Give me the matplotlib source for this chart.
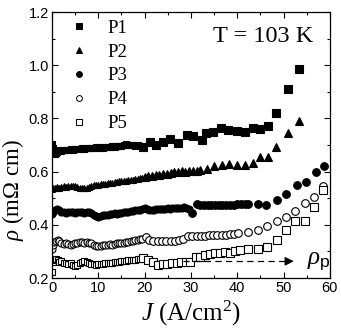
import matplotlib
matplotlib.use('Agg')
import matplotlib.pyplot as plt
from matplotlib.lines import Line2D
from matplotlib.ticker import MultipleLocator

plt.rcParams['font.family'] = ['Liberation Sans', 'DejaVu Sans']
plt.rcParams['mathtext.fontset'] = 'custom'
plt.rcParams['mathtext.rm'] = 'Liberation Serif'
plt.rcParams['mathtext.it'] = 'Liberation Serif:italic'
plt.rcParams['mathtext.sf'] = 'Liberation Sans'

############# DATA ################
p1_j = [0, 0.2, 0.4, 0.6, 0.8, 1, 1.5, 2, 2.5, 3, 3.5, 4, 4.5, 5, 5.5, 6, 6.5, 7, 7.5, 8,
        8.5, 9, 9.5, 10, 10.5, 11, 11.5, 12, 12.5, 13, 13.5, 14, 14.5, 15, 15.5, 16, 16.5,
        17, 17.5, 18, 18.5, 19, 19.7, 21.2, 22.4, 24.0, 25.5, 27.3, 29.1, 30.5, 32.3, 33.2,
        34.8, 36.5, 38.1, 39.9, 41.7, 43.3, 44.9, 46.7, 48.3, 51.0, 53.3]
p1_rho = [0.705, 0.69, 0.675, 0.665, 0.67, 0.675, 0.68, 0.678, 0.682, 0.680, 0.683, 0.684,
          0.682, 0.686, 0.685, 0.687, 0.688, 0.686, 0.689, 0.690, 0.688, 0.690, 0.691, 0.689,
          0.692, 0.690, 0.693, 0.694, 0.692, 0.695, 0.694, 0.696, 0.695, 0.698, 0.700, 0.703,
          0.701, 0.699, 0.700, 0.697, 0.699, 0.695, 0.694, 0.712, 0.700, 0.712, 0.721, 0.706,
          0.738, 0.734, 0.719, 0.746, 0.750, 0.763, 0.756, 0.754, 0.748, 0.765, 0.759, 0.773,
          0.821, 0.911, 0.985]

p2_j = [0, 0.3, 0.6, 1, 1.5, 2, 2.5, 3, 3.5, 4, 4.5, 5, 5.5, 6, 6.5, 7, 7.5, 8, 8.5, 9, 9.5,
        10, 10.5, 11, 11.5, 12, 12.5, 13, 13.5, 14, 14.5, 15, 15.5, 16, 16.5, 17, 17.5, 18,
        18.5, 19, 19.5, 20, 20.8, 21.6, 22.4, 23.2, 24, 24.8, 25.6, 26.4, 27.2, 28, 28.8,
        29.6, 30.4, 31.2, 32, 33.4, 35.0, 36.6, 38.3, 39.9, 41.7, 43.3, 44.9, 46.7, 48.3,
        51.0, 53.3]
p2_rho = [0.535, 0.540, 0.538, 0.542, 0.540, 0.543, 0.545, 0.544, 0.546, 0.545, 0.547, 0.546,
          0.544, 0.540, 0.538, 0.537, 0.540, 0.543, 0.546, 0.548, 0.550, 0.551, 0.552, 0.554,
          0.555, 0.557, 0.556, 0.559, 0.561, 0.560, 0.563, 0.565, 0.563, 0.566, 0.568, 0.567,
          0.570, 0.572, 0.571, 0.575, 0.577, 0.579, 0.582, 0.584, 0.586, 0.587, 0.590, 0.592,
          0.595, 0.598, 0.600, 0.601, 0.600, 0.602, 0.601, 0.604, 0.607, 0.611, 0.621, 0.625,
          0.629, 0.625, 0.626, 0.634, 0.656, 0.655, 0.691, 0.745, 0.790]

p3_j = [0, 0.3, 0.6, 1, 1.5, 2, 2.5, 3, 3.5, 4, 4.5, 5, 5.5, 6, 6.5, 7, 7.5, 8, 8.5, 9, 9.5,
        10, 10.5, 11, 11.5, 12, 12.5, 13, 13.5, 14, 14.5, 15, 15.5, 16, 16.5, 17, 17.5, 18,
        18.5, 19, 19.5, 20, 20.5, 21, 21.5, 22, 22.5, 23, 23.5, 24, 24.5, 25, 25.5, 26, 26.5,
        27, 27.5, 28, 28.5, 29, 29.5, 30.2, 31.2, 32, 32.8, 33.6, 34.4, 35.2, 36, 36.8, 37.6,
        38.4, 39.2, 40, 40.8, 41.6, 42.4, 44.4, 46.3, 48.5, 50.5, 52.8, 54.8, 56.9, 58.8]
p3_rho = [0.44, 0.45, 0.455, 0.46, 0.455, 0.450, 0.447, 0.445, 0.447, 0.449, 0.448, 0.446,
          0.447, 0.449, 0.447, 0.445, 0.448, 0.447, 0.444, 0.438, 0.432, 0.430, 0.433, 0.436,
          0.437, 0.438, 0.440, 0.441, 0.443, 0.442, 0.445, 0.444, 0.447, 0.449, 0.448, 0.451,
          0.453, 0.455, 0.454, 0.457, 0.460, 0.463, 0.458, 0.455, 0.457, 0.456, 0.458, 0.460,
          0.459, 0.461, 0.460, 0.462, 0.461, 0.463, 0.462, 0.464, 0.463, 0.465, 0.468, 0.463,
          0.458, 0.446, 0.478, 0.476, 0.474, 0.475, 0.473, 0.474, 0.475, 0.474, 0.476, 0.475,
          0.476, 0.477, 0.478, 0.478, 0.480, 0.479, 0.473, 0.492, 0.515, 0.550, 0.560, 0.597,
          0.622]

p4_j = [0, 0.2, 0.5, 0.8, 1.2, 1.6, 2, 2.5, 3, 3.5, 4, 4.5, 5, 5.5, 6, 6.5, 7, 7.5, 8, 8.5,
        9, 9.5, 10, 10.5, 11, 11.5, 12, 12.5, 13, 13.5, 14, 14.5, 15, 15.5, 16, 16.5, 17,
        17.5, 18, 18.5, 19, 19.5, 20.2, 21, 21.9, 22.9, 23.8, 24.7, 25.6, 26.5, 27.4, 28.3,
        29.4, 30.3, 31.2, 32.1, 33, 33.9, 34.8, 35.7, 36.6, 37.5, 38.4, 39.3, 40.2, 42.4,
        44.4, 46.5, 48.5, 50.5, 52.4, 54.6, 56.5, 58.6]
p4_rho = [0.310, 0.325, 0.335, 0.340, 0.343, 0.338, 0.332, 0.328, 0.330, 0.327, 0.325, 0.328,
          0.330, 0.332, 0.336, 0.334, 0.331, 0.336, 0.333, 0.330, 0.326, 0.322, 0.320, 0.322,
          0.324, 0.323, 0.325, 0.327, 0.326, 0.329, 0.330, 0.331, 0.333, 0.332, 0.335, 0.336,
          0.338, 0.340, 0.342, 0.344, 0.346, 0.348, 0.354, 0.343, 0.340, 0.338, 0.338, 0.338,
          0.338, 0.339, 0.342, 0.348, 0.358, 0.358, 0.357, 0.358, 0.359, 0.360, 0.360, 0.362,
          0.363, 0.363, 0.365, 0.364, 0.369, 0.372, 0.380, 0.395, 0.413, 0.430, 0.451, 0.482,
          0.504, 0.545]

p5_j = [0, 0.2, 0.5, 0.8, 1.2, 1.6, 2, 2.5, 3, 3.5, 4, 4.5, 5, 5.5, 6, 6.5, 7, 7.5, 8, 8.5,
        9, 9.5, 10, 10.5, 11, 11.5, 12, 12.5, 13, 13.5, 14, 14.5, 15, 15.5, 16, 16.5, 17,
        17.5, 18, 18.5, 19, 19.7, 20.8, 21.9, 22.9, 23.9, 24.9, 25.9, 26.9, 27.9, 28.9, 29.8,
        31.1, 32, 33, 34.1, 35.2, 36.2, 37.3, 38.4, 39.5, 40.6, 42.4, 44.4, 46.5, 48.5, 50.5,
        52.4, 54.6, 56.5, 58.6]
p5_rho = [0.222, 0.260, 0.268, 0.272, 0.268, 0.262, 0.265, 0.258, 0.255, 0.252, 0.255, 0.250,
          0.246, 0.250, 0.255, 0.262, 0.265, 0.260, 0.256, 0.254, 0.252, 0.250, 0.252, 0.253,
          0.254, 0.255, 0.256, 0.257, 0.258, 0.259, 0.260, 0.262, 0.263, 0.264, 0.265, 0.266,
          0.267, 0.268, 0.269, 0.270, 0.271, 0.275, 0.268, 0.261, 0.250, 0.253, 0.254, 0.255,
          0.257, 0.260, 0.260, 0.261, 0.280, 0.280, 0.285, 0.290, 0.293, 0.296, 0.298, 0.293,
          0.303, 0.305, 0.308, 0.308, 0.315, 0.343, 0.380, 0.414, 0.414, 0.468, 0.532]

labels = ['P1', 'P2', 'P3', 'P4', 'P5']
rho_p = 0.263   # dashed reference level
arrow_j = [28.3, 52.8]

############# STYLE ################
# (marker, filled, J below which the points are packed densely)
styles = [('s', True, 19.5), ('^', True, 19.8), ('o', True, 30.0),
          ('o', False, 20.0), ('s', False, 19.5)]
series = [(p1_j, p1_rho), (p2_j, p2_rho), (p3_j, p3_rho), (p4_j, p4_rho), (p5_j, p5_rho)]

fig = plt.figure(figsize=(3.41, 3.31), dpi=100)
ax = fig.add_axes([0.1525, 0.160, 0.815, 0.8035])

handles = []
for (jj, rr), (mk, filled, cut), lab in zip(series, styles, labels):
    fc = 'black' if filled else 'white'
    dense = [(a, b) for a, b in zip(jj, rr) if a < cut]
    sparse = [(a, b) for a, b in zip(jj, rr) if a >= cut]
    ax.plot([a for a, b in dense], [b for a, b in dense], linestyle='none', marker=mk,
            ms=5.0, mfc=fc, mec='black', mew=0.8)
    ax.plot([a for a, b in sparse], [b for a, b in sparse], linestyle='none', marker=mk,
            ms=5.5, mfc=fc, mec='black', mew=0.8)
    handles.append(Line2D([], [], linestyle='none', marker=mk, ms=4.2, mfc=fc,
                          mec='black', mew=0.7, label=lab))

# dashed line + arrow head for rho_p
ax.plot([arrow_j[0], arrow_j[1] - 2.0], [rho_p, rho_p], color='black', lw=0.9,
        linestyle=(0, (5, 3.5)))
ax.annotate('', xy=(arrow_j[1], rho_p), xytext=(arrow_j[1] - 2.5, rho_p),
            arrowprops=dict(arrowstyle='-|>', color='black', lw=0.9, mutation_scale=13))
ax.text(55.0, rho_p, r'$\rho_{\mathsf{p}}$', fontsize=18, va='center', ha='left')

ax.text(0.94, 0.91, 'T = 103 K', transform=ax.transAxes, ha='right', va='center',
        fontsize=17.5, family='Liberation Serif')

leg = ax.legend(handles=handles, loc='upper left', bbox_to_anchor=(0.03, 1.0),
                frameon=False, prop={'family': 'Liberation Serif', 'size': 13.5},
                handlelength=1.2, handletextpad=0.9, labelspacing=0.36, borderaxespad=0.0)

ax.set_xlim(0, 60)
ax.set_ylim(0.2, 1.2)
ax.xaxis.set_major_locator(MultipleLocator(10))
ax.xaxis.set_minor_locator(MultipleLocator(5))
ax.yaxis.set_major_locator(MultipleLocator(0.2))
ax.yaxis.set_minor_locator(MultipleLocator(0.1))
ax.yaxis.set_major_formatter(matplotlib.ticker.FormatStrFormatter('%.1f'))
ax.tick_params(which='both', direction='in', top=True, right=True, labelsize=10.5, width=0.8)
ax.tick_params(which='major', length=4.5, pad=2.0)
ax.tick_params(which='minor', length=2.5)
for sp in ax.spines.values():
    sp.set_linewidth(0.9)

ax.set_xlabel(r'$J$ (A/cm$^2$)', fontsize=18, family='Liberation Serif', labelpad=3)
ax.set_ylabel(r'$\rho$ (m$\Omega$ cm)', fontsize=16.5, family='Liberation Serif')
ax.yaxis.set_label_coords(-0.094, 0.33)

fig.savefig('out.png', dpi=100)
